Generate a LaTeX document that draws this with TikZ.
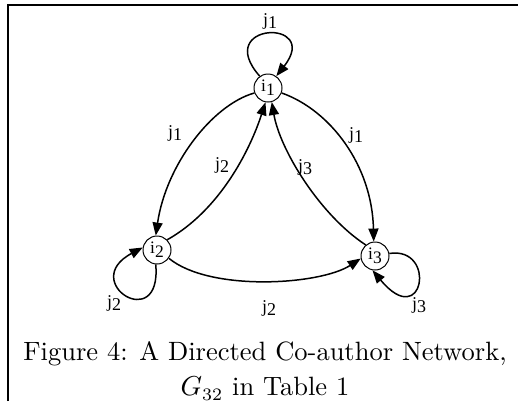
\documentclass[tikz,border=0pt]{standalone}
\usepackage{fontspec}
\newfontfamily\labfont{Liberation Serif}
\usetikzlibrary{arrows.meta}
\newcommand{\vlab}[2]{#1\raisebox{-0.45ex}{#2}}

\begin{document}
\begin{tikzpicture}[x=0.4pt,y=-0.4pt,
    vert/.style={draw,circle,inner sep=0pt,minimum size=11.2pt,font=\labfont\fontsize{7}{8}\selectfont},
    elab/.style={font=\labfont\fontsize{7.2}{8}\selectfont},
    arr/.style={-{Triangle[length=5.2pt,width=4pt]},semithick}]
  \useasboundingbox (0,0) rectangle (518,401);
  \draw[line width=0.8pt] (8,401) -- (8,5) -- (518,5);
  \node[vert] (i1) at (268,88)  {\vlab{i}{1}};
  \node[vert] (i2) at (157,250) {\vlab{i}{2}};
  \node[vert] (i3) at (375,256) {\vlab{i}{3}};
  % loops
  \draw[arr] (i1.125) .. controls (212,22) and (322,18) .. (i1.55);
  \draw[arr] (i2.-95) .. controls (162,335) and (78,282) .. (i2.170);
  \draw[arr] (i3.10) .. controls (437,246) and (424,332) .. (i3.-100);
  % between vertices
  \draw[arr] (i1.200) .. controls (212,105) and (166,165) .. (i2.95);
  \draw[arr] (i2.45) .. controls (220,210) and (250,150) .. (i1.-100);
  \draw[arr] (i3.130) .. controls (320,215) and (280,150) .. (i1.-75);
  \draw[arr] (i1.-20) .. controls (330,110) and (372,165) .. (i3.95);
  \draw[arr] (i2.-35) .. controls (210,292) and (320,285) .. (i3.190);
  % edge labels
  \node[elab] (l11) at (270,21)  {\vlab{j}{1}};
  \node[elab] (l12) at (175,133) {\vlab{j}{1}};
  \node[elab] (l21) at (222,165) {\vlab{j}{2}};
  \node[elab] (l31) at (305,167) {\vlab{j}{3}};
  \node[elab] (l13) at (356,135) {\vlab{j}{1}};
  \node[elab] (l22) at (114,303) {\vlab{j}{2}};
  \node[elab] (l23) at (269,308) {\vlab{j}{2}};
  \node[elab] (l33) at (419,305) {\vlab{j}{3}};
  % caption
  \node[align=center,font=\fontsize{10.6}{14}\selectfont] (cap) at (265,371)
    {Figure 4: A Directed Co-author Network,\\ $G_{32}$ in Table 1};
\end{tikzpicture}
\end{document}
